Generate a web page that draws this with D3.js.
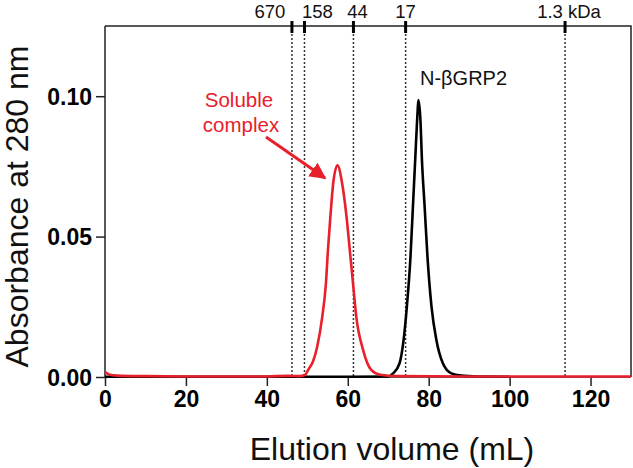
<!DOCTYPE html>
<html>
<head>
<meta charset="utf-8">
<script src="https://cdn.jsdelivr.net/npm/d3@7"></script>
<style>
  html, body { margin: 0; padding: 0; background: #fff; }
  svg { display: block; font-family: "Liberation Sans", Arial, sans-serif; }
</style>
</head>
<body>
<svg id="chart" width="633" height="468"></svg>
<script>
// ---- data ----
const xTicks = [0, 20, 40, 60, 80, 100, 120];
const yTicks = [0.00, 0.05, 0.10];
const yTickLabels = ["0.00", "0.05", "0.10"];

// molecular weight standards (elution volume, label)
const markerVolumes = [46.2, 49.3, 61.4, 74.3, 113.7];
const markerLabels = ["670", "158", "44", "17", "1.3 kDa"];

// soluble complex trace (red)
const complexVolume = [0, 1, 3, 10, 20, 30, 40, 45, 48, 49.5, 50.2, 51.4, 52.4, 53.7, 54.6, 55.1, 55.7, 56.4, 57.45, 58.6, 59.7, 60.5, 61.3, 62.1, 63.8, 65.8, 68, 72, 90, 110, 130];
const complexAbs =    [0.0018, 0.0009, 0.0005, 0.0003, 0.0002, 0.0002, 0.0002, 0.0004, 0.0003, 0.0008, 0.0025, 0.0055, 0.0105, 0.0215, 0.0333, 0.0452, 0.057, 0.069, 0.0754, 0.069, 0.057, 0.0452, 0.0333, 0.0215, 0.0096, 0.0025, 0.0008, 0.0003, 0.0002, 0.0002, 0.0002];

// N-betaGRP2 trace (black)
const grpVolume = [0, 20, 40, 60, 70, 71.2, 72.8, 73.8, 74.6, 75.5, 76.1, 76.7, 77.1, 77.5, 78.0, 78.3, 79.0, 79.7, 80.7, 81.9, 83.5, 85.6, 88, 92, 100];
const grpAbs =    [0.0001, 0.0001, 0.0001, 0.0001, 0.0002, 0.0013, 0.0049, 0.0132, 0.025, 0.0428, 0.0606, 0.0784, 0.0903, 0.0986, 0.0903, 0.0784, 0.0606, 0.0428, 0.025, 0.0132, 0.0049, 0.0013, 0.0005, 0.0002, 0.0001];

// ---- layout ----
const svg = d3.select("#chart");
const mLeft = 105, mRight = 631, mTop = 26, mBottom = 377;
const red = "#e8202b";

const x = d3.scaleLinear().domain([0, 130]).range([mLeft, mRight]);
const y = d3.scaleLinear().domain([0, 0.125]).range([mBottom, mTop]);

// frame (top & right)
svg.append("path")
  .attr("d", `M${mLeft},${mTop}H${x(130)}V${mBottom}`)
  .attr("fill", "none").attr("stroke", "#222").attr("stroke-width", 1.5);

// dotted marker lines
const mk = svg.append("g");
mk.selectAll("line.dot").data(markerVolumes).join("line")
  .attr("class", "dot")
  .attr("x1", d => x(d)).attr("x2", d => x(d))
  .attr("y1", mTop).attr("y2", mBottom)
  .attr("stroke", "#333").attr("stroke-width", 1.5)
  .attr("stroke-dasharray", "2,2");
mk.selectAll("line.tk").data(markerVolumes).join("line")
  .attr("class", "tk")
  .attr("x1", d => x(d)).attr("x2", d => x(d))
  .attr("y1", mTop - 5).attr("y2", mTop + 7)
  .attr("stroke", "#000").attr("stroke-width", 3);
const labelShift = [-22, 13, 4, 0, 4];
mk.selectAll("text").data(markerLabels).join("text")
  .attr("x", (d, i) => x(markerVolumes[i]) + labelShift[i])
  .attr("y", 17.5)
  .attr("text-anchor", "middle")
  .attr("font-size", 18.5)
  .attr("fill", "#111")
  .text(d => d);

// axes
const xAxis = svg.append("g")
  .attr("transform", `translate(0,${mBottom})`)
  .call(d3.axisBottom(x).tickValues(xTicks).tickFormat(d3.format("d")).tickSize(9).tickPadding(5).tickSizeOuter(0));
xAxis.select(".domain").attr("d", `M${mLeft},0H${x(130)}`);
const yAxis = svg.append("g")
  .attr("transform", `translate(${mLeft},0)`)
  .call(d3.axisLeft(y).tickValues(yTicks).tickFormat((d, i) => yTickLabels[i]).tickSize(9).tickPadding(4).tickSizeOuter(0));
yAxis.select(".domain").attr("d", `M0,${mBottom}V${mTop}`);
[xAxis, yAxis].forEach(a => {
  a.selectAll(".domain, .tick line").attr("stroke", "#222").attr("stroke-width", 1.5);
  a.selectAll(".tick text").attr("font-size", 23).attr("font-weight", "bold")
    .attr("fill", "#000").attr("font-family", "Liberation Sans, Arial, sans-serif");
});
yAxis.selectAll(".tick text").attr("dy", "0.36em");

// axis titles
svg.append("text")
  .attr("x", (247 + 537) / 2).attr("y", 460)
  .attr("text-anchor", "middle").attr("font-size", 32).attr("fill", "#111")
  .text("Elution volume (mL)");
svg.append("text")
  .attr("transform", `translate(28,${(45 + 368) / 2}) rotate(-90)`)
  .attr("text-anchor", "middle").attr("font-size", 32).attr("fill", "#111")
  .text("Absorbance at 280 nm");

// traces
const line = d3.line().x(d => x(d[0])).y(d => y(d[1])).curve(d3.curveMonotoneX);
svg.append("path")
  .datum(d3.zip(grpVolume, grpAbs))
  .attr("d", line).attr("fill", "none").attr("stroke", "#000").attr("stroke-width", 2.6)
  .attr("stroke-linejoin", "round");
svg.append("path")
  .datum(d3.zip(complexVolume, complexAbs))
  .attr("d", line).attr("fill", "none").attr("stroke", red).attr("stroke-width", 2.6)
  .attr("stroke-linejoin", "round");

// annotations
svg.append("text")
  .attr("x", 420).attr("y", 85)
  .attr("font-size", 20).attr("fill", "#111")
  .text("N-\u03B2GRP2");
const sc = svg.append("text").attr("font-size", 20.5).attr("fill", red).attr("text-anchor", "middle");
sc.append("tspan").attr("x", 239).attr("y", 107).text("Soluble");
sc.append("tspan").attr("x", 241).attr("y", 132).text("complex");

svg.append("defs").append("marker")
  .attr("id", "ah").attr("viewBox", "0 0 10 10")
  .attr("refX", 9).attr("refY", 5)
  .attr("markerWidth", 5.5).attr("markerHeight", 5.5)
  .attr("markerUnits", "strokeWidth")
  .attr("orient", "auto")
  .append("path").attr("d", "M0,0L10,5L0,10Z").attr("fill", red);
svg.append("line")
  .attr("x1", 266).attr("y1", 137).attr("x2", 325).attr("y2", 178)
  .attr("stroke", red).attr("stroke-width", 3)
  .attr("marker-end", "url(#ah)");
</script>
</body>
</html>
